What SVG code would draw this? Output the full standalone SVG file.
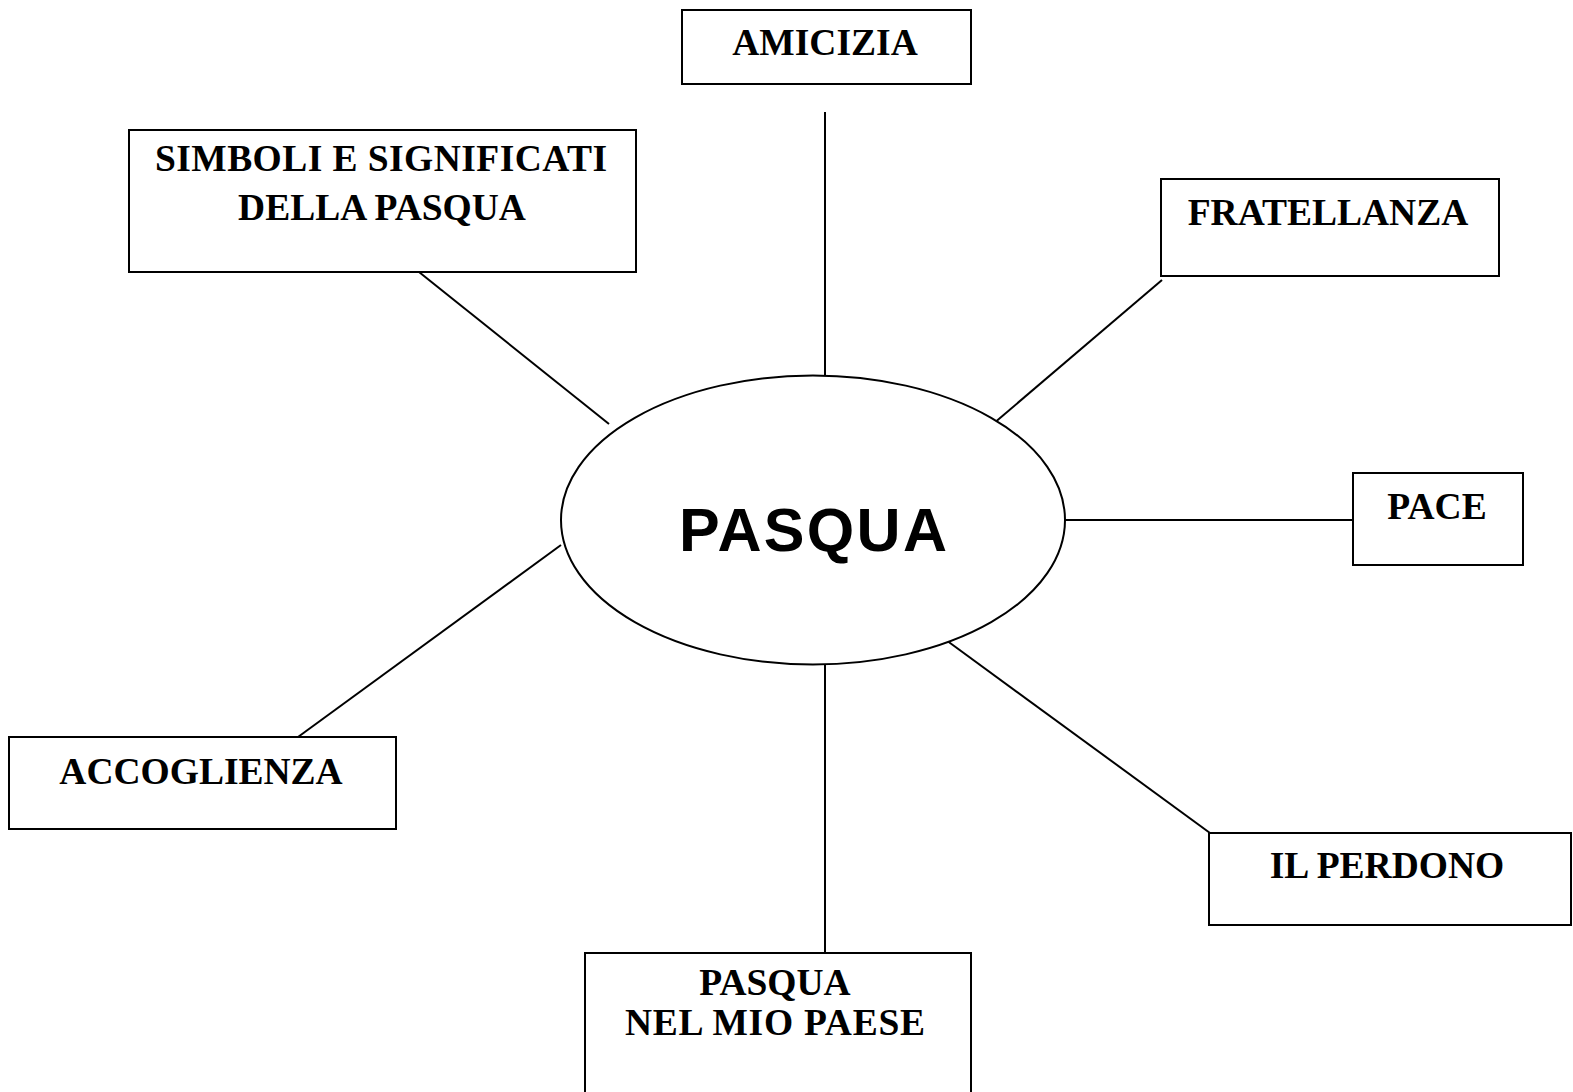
<svg xmlns="http://www.w3.org/2000/svg" width="1573" height="1092" viewBox="0 0 1573 1092">
<style>
.box{fill:#fff;stroke:#000;stroke-width:2}
.lbl{font-family:"Liberation Serif","Times New Roman",serif;font-weight:bold;font-size:37.5px;text-anchor:middle;fill:#000}
.conn line{stroke:#000;stroke-width:2}
.center{font-family:"Liberation Sans",Arial,sans-serif;font-weight:bold;font-size:61px;text-anchor:middle;fill:#000}
</style>
<rect width="1573" height="1092" fill="#fff"/>
<g id="connectors" class="conn">
<line x1="825" y1="112" x2="825" y2="376"/>
<line x1="419" y1="272" x2="609" y2="424"/>
<line x1="1162" y1="280" x2="993" y2="424"/>
<line x1="1065" y1="520" x2="1353" y2="520"/>
<line x1="946" y1="640" x2="1210" y2="833"/>
<line x1="825" y1="665" x2="825" y2="953"/>
<line x1="561" y1="545" x2="298" y2="737"/>
</g>
<g id="pasqua">
<ellipse cx="813" cy="520" rx="252" ry="144.5" fill="#fff" stroke="#000" stroke-width="2"/>
<text class="center" x="813" y="551" textLength="268" lengthAdjust="spacing">PASQUA</text>
</g>
<g id="amicizia">
<rect class="box" x="682" y="10" width="289" height="74"/>
<text class="lbl" x="825" y="55">AMICIZIA</text>
</g>
<g id="simboli">
<rect class="box" x="129" y="130" width="507" height="142"/>
<text class="lbl" x="381" y="171" textLength="452" lengthAdjust="spacing">SIMBOLI E SIGNIFICATI</text>
<text class="lbl" x="382" y="220">DELLA PASQUA</text>
</g>
<g id="fratellanza">
<rect class="box" x="1161" y="179" width="338" height="97"/>
<text class="lbl" x="1328" y="225">FRATELLANZA</text>
</g>
<g id="pace">
<rect class="box" x="1353" y="473" width="170" height="92"/>
<text class="lbl" x="1437" y="519">PACE</text>
</g>
<g id="perdono">
<rect class="box" x="1209" y="833" width="362" height="92"/>
<text class="lbl" x="1387" y="878">IL PERDONO</text>
</g>
<g id="paese">
<rect class="box" x="585" y="953" width="386" height="150"/>
<text class="lbl" x="775" y="995">PASQUA</text>
<text class="lbl" x="775" y="1035" textLength="300" lengthAdjust="spacing">NEL MIO PAESE</text>
</g>
<g id="accoglienza">
<rect class="box" x="9" y="737" width="387" height="92"/>
<text class="lbl" x="201" y="784">ACCOGLIENZA</text>
</g>
</svg>
